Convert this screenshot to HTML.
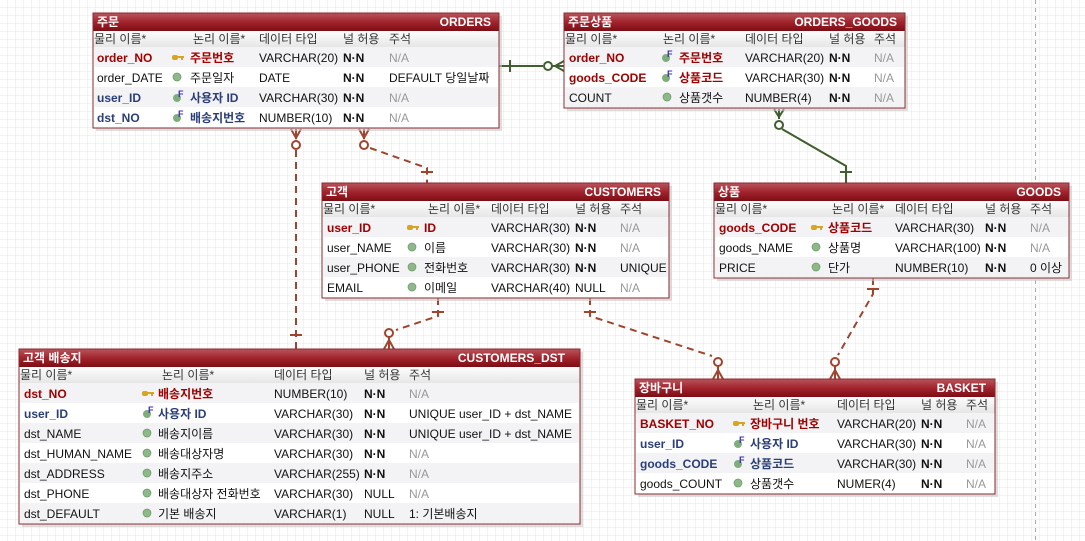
<!DOCTYPE html>
<html><head><meta charset="utf-8">
<style>
html,body{margin:0;padding:0;background:#fff;}
svg{display:block;font-family:"Liberation Sans","Noto Sans CJK KR",sans-serif;font-size:12px;}
.h{fill:#fff;font-weight:bold;font-size:12px}
.ch{fill:#333;font-size:12px}
.pk{fill:#a00000;font-weight:bold}
.fk{fill:#2a3f7a;font-weight:bold}
.n{fill:#111}
.g{fill:#999}
.b{fill:#111;font-weight:bold}
</style></head><body>
<svg width="1085" height="541" viewBox="0 0 1085 541" xmlns="http://www.w3.org/2000/svg">
<defs>
<pattern id="grid" width="8" height="8" patternUnits="userSpaceOnUse">
<path d="M8 0V8M0 8H8" stroke="#f0e0e3" stroke-width="1" fill="none"/>
</pattern>
<linearGradient id="hd" x1="0" y1="0" x2="0" y2="1">
<stop offset="0" stop-color="#b8525a"/><stop offset="0.5" stop-color="#a0222b"/><stop offset="1" stop-color="#7a0c12"/>
</linearGradient>
<linearGradient id="cg" x1="0" y1="0" x2="0" y2="1">
<stop offset="0" stop-color="#fdfdfd"/><stop offset="1" stop-color="#e6e6e6"/>
</linearGradient>
<g id="key"><rect x="0" y="-3" width="6" height="5" rx="2" fill="#d9a520"/><rect x="5" y="-2" width="7" height="2" fill="#d9a520"/><rect x="9" y="0" width="2" height="2" fill="#d9a520"/></g>
<g id="dot"><circle cx="5" cy="0" r="4" fill="#8fb88a" stroke="#6a9a66" stroke-width="0.7"/></g>
<g id="fk"><circle cx="4" cy="1" r="4" fill="#7fae7a"/><text x="5" y="0" font-size="9" font-weight="bold" fill="#3a2fb0">F</text></g>
</defs>
<rect width="1085" height="541" fill="#fff"/>
<rect width="1085" height="541" fill="url(#grid)"/>
<line x1="1035.5" y1="0" x2="1035.5" y2="541" stroke="#aaa" stroke-dasharray="4,4"/>

<!-- connectors -->
<g stroke="#a0442e" stroke-width="2" fill="none">
<path d="M296 150V349" stroke-dasharray="7,5"/>
<path d="M290 335H302"/>
<path d="M291 129L296 138L301 129M296 129V139"/>
<circle cx="296" cy="145" r="4" fill="#fff"/>
<path d="M370 148L427 168V183" stroke-dasharray="7,5"/>
<path d="M421 172H433"/>
<path d="M359 129L364 138L369 129M364 129V139"/>
<circle cx="364" cy="145" r="4" fill="#fff"/>
<path d="M438 298V316L396 330" stroke-dasharray="7,5"/>
<path d="M432 312H444"/>
<circle cx="389" cy="333" r="4" fill="#fff"/>
<path d="M389 337V349M384 349L389 340L394 349"/>
<path d="M590 298V316L712 356" stroke-dasharray="7,5"/>
<path d="M584 312H596"/>
<circle cx="718" cy="362" r="4" fill="#fff"/>
<path d="M718 366V379M713 379L718 370L723 379"/>
<path d="M873 278V294L838 355" stroke-dasharray="7,5"/>
<path d="M867 289H879"/>
<circle cx="835" cy="362" r="4" fill="#fff"/>
<path d="M835 366V379M830 379L835 370L840 379"/>
</g>
<g stroke="#3f5f2e" stroke-width="2" fill="none">
<path d="M499 66H543"/>
<path d="M510 60V72"/>
<circle cx="548" cy="66" r="4" fill="#fff"/>
<path d="M552 66H564M564 61L555 66L564 71"/>
<path d="M779 109V119M774 109L779 117L784 109"/>
<circle cx="779" cy="125" r="4" fill="#fff"/>
<path d="M782 129L846 166V183"/>
<path d="M840 172H852"/>
</g>

<!-- ORDERS -->
<g transform="translate(93,13)">
<rect x="3" y="3" width="406" height="115" fill="#c8c8c8" opacity="0.6"/>
<rect x="0" y="0" width="406" height="115" fill="#fff" stroke="#8a2a2e"/>
<rect x="0.5" y="0.5" width="405" height="18" fill="url(#hd)"/>
<text class="h" x="4" y="13">주문</text><text class="h" x="398" y="13" text-anchor="end">ORDERS</text>
<rect x="0.5" y="18" width="405" height="16" fill="url(#cg)"/>
<text class="ch" x="1" y="30">물리 이름*</text><text class="ch" x="100" y="30">논리 이름*</text><text class="ch" x="166" y="30">데이터 타입</text><text class="ch" x="250" y="30">널 허용</text><text class="ch" x="296" y="30">주석</text>
<rect x="1" y="34" width="404" height="20" fill="#f3f3f5"/><rect x="1" y="74" width="404" height="20" fill="#f3f3f5"/>
<text class="pk" x="4" y="49">order_NO</text><use href="#key" x="79" y="45"/><text class="pk" x="97" y="49">주문번호</text><text class="n" x="166" y="49">VARCHAR(20)</text><text class="b" x="250" y="49">N·N</text><text class="g" x="296" y="49">N/A</text>
<text class="n" x="4" y="69">order_DATE</text><use href="#dot" x="79" y="64"/><text class="n" x="97" y="69">주문일자</text><text class="n" x="166" y="69">DATE</text><text class="b" x="250" y="69">N·N</text><text class="n" x="296" y="69">DEFAULT 당일날짜</text>
<text class="fk" x="4" y="89">user_ID</text><use href="#fk" x="80" y="84"/><text class="fk" x="97" y="89">사용자 ID</text><text class="n" x="166" y="89">VARCHAR(30)</text><text class="b" x="250" y="89">N·N</text><text class="g" x="296" y="89">N/A</text>
<text class="fk" x="4" y="109">dst_NO</text><use href="#fk" x="80" y="104"/><text class="fk" x="97" y="109">배송지번호</text><text class="n" x="166" y="109">NUMBER(10)</text><text class="b" x="250" y="109">N·N</text><text class="g" x="296" y="109">N/A</text>
</g>

<!-- ORDERS_GOODS -->
<g transform="translate(564,13)">
<rect x="3" y="3" width="341" height="95" fill="#c8c8c8" opacity="0.6"/>
<rect x="0" y="0" width="341" height="95" fill="#fff" stroke="#8a2a2e"/>
<rect x="0.5" y="0.5" width="340" height="18" fill="url(#hd)"/>
<text class="h" x="4" y="13">주문상품</text><text class="h" x="333" y="13" text-anchor="end">ORDERS_GOODS</text>
<rect x="0.5" y="18" width="340" height="16" fill="url(#cg)"/>
<text class="ch" x="1" y="30">물리 이름*</text><text class="ch" x="99" y="30">논리 이름*</text><text class="ch" x="181" y="30">데이터 타입</text><text class="ch" x="265" y="30">널 허용</text><text class="ch" x="310" y="30">주석</text>
<rect x="1" y="34" width="339" height="20" fill="#f3f3f5"/><rect x="1" y="74" width="339" height="20" fill="#f3f3f5"/>
<text class="pk" x="5" y="49">order_NO</text><use href="#fk" x="98" y="44"/><text class="pk" x="115" y="49">주문번호</text><text class="n" x="181" y="49">VARCHAR(20)</text><text class="b" x="265" y="49">N·N</text><text class="g" x="310" y="49">N/A</text>
<text class="pk" x="5" y="69">goods_CODE</text><use href="#fk" x="98" y="64"/><text class="pk" x="115" y="69">상품코드</text><text class="n" x="181" y="69">VARCHAR(30)</text><text class="b" x="265" y="69">N·N</text><text class="g" x="310" y="69">N/A</text>
<text class="n" x="5" y="89">COUNT</text><use href="#dot" x="98" y="84"/><text class="n" x="115" y="89">상품갯수</text><text class="n" x="181" y="89">NUMBER(4)</text><text class="b" x="265" y="89">N·N</text><text class="g" x="310" y="89">N/A</text>
</g>

<!-- CUSTOMERS -->
<g transform="translate(322,183)">
<rect x="3" y="3" width="347" height="115" fill="#c8c8c8" opacity="0.6"/>
<rect x="0" y="0" width="347" height="115" fill="#fff" stroke="#8a2a2e"/>
<rect x="0.5" y="0.5" width="346" height="18" fill="url(#hd)"/>
<text class="h" x="4" y="13">고객</text><text class="h" x="339" y="13" text-anchor="end">CUSTOMERS</text>
<rect x="0.5" y="18" width="346" height="16" fill="url(#cg)"/>
<text class="ch" x="1" y="30">물리 이름*</text><text class="ch" x="106" y="30">논리 이름*</text><text class="ch" x="169" y="30">데이터 타입</text><text class="ch" x="253" y="30">널 허용</text><text class="ch" x="298" y="30">주석</text>
<rect x="1" y="34" width="345" height="20" fill="#f3f3f5"/><rect x="1" y="74" width="345" height="20" fill="#f3f3f5"/>
<text class="pk" x="5" y="49">user_ID</text><use href="#key" x="85" y="45"/><text class="pk" x="102" y="49">ID</text><text class="n" x="169" y="49">VARCHAR(30)</text><text class="b" x="253" y="49">N·N</text><text class="g" x="298" y="49">N/A</text>
<text class="n" x="5" y="69">user_NAME</text><use href="#dot" x="85" y="64"/><text class="n" x="102" y="69">이름</text><text class="n" x="169" y="69">VARCHAR(30)</text><text class="b" x="253" y="69">N·N</text><text class="g" x="298" y="69">N/A</text>
<text class="n" x="5" y="89">user_PHONE</text><use href="#dot" x="85" y="84"/><text class="n" x="102" y="89">전화번호</text><text class="n" x="169" y="89">VARCHAR(30)</text><text class="b" x="253" y="89">N·N</text><text class="n" x="298" y="89">UNIQUE</text>
<text class="n" x="5" y="109">EMAIL</text><use href="#dot" x="85" y="104"/><text class="n" x="102" y="109">이메일</text><text class="n" x="169" y="109">VARCHAR(40)</text><text class="n" x="253" y="109">NULL</text><text class="g" x="298" y="109">N/A</text>
</g>

<!-- GOODS -->
<g transform="translate(714,183)">
<rect x="3" y="3" width="355" height="95" fill="#c8c8c8" opacity="0.6"/>
<rect x="0" y="0" width="355" height="95" fill="#fff" stroke="#8a2a2e"/>
<rect x="0.5" y="0.5" width="354" height="18" fill="url(#hd)"/>
<text class="h" x="4" y="13">상품</text><text class="h" x="347" y="13" text-anchor="end">GOODS</text>
<rect x="0.5" y="18" width="354" height="16" fill="url(#cg)"/>
<text class="ch" x="1" y="30">물리 이름*</text><text class="ch" x="118" y="30">논리 이름*</text><text class="ch" x="181" y="30">데이터 타입</text><text class="ch" x="271" y="30">널 허용</text><text class="ch" x="316" y="30">주석</text>
<rect x="1" y="34" width="353" height="20" fill="#f3f3f5"/><rect x="1" y="74" width="353" height="20" fill="#f3f3f5"/>
<text class="pk" x="5" y="49">goods_CODE</text><use href="#key" x="97" y="45"/><text class="pk" x="114" y="49">상품코드</text><text class="n" x="181" y="49">VARCHAR(30)</text><text class="b" x="271" y="49">N·N</text><text class="g" x="316" y="49">N/A</text>
<text class="n" x="5" y="69">goods_NAME</text><use href="#dot" x="97" y="64"/><text class="n" x="114" y="69">상품명</text><text class="n" x="181" y="69">VARCHAR(100)</text><text class="b" x="271" y="69">N·N</text><text class="g" x="316" y="69">N/A</text>
<text class="n" x="5" y="89">PRICE</text><use href="#dot" x="97" y="84"/><text class="n" x="114" y="89">단가</text><text class="n" x="181" y="89">NUMBER(10)</text><text class="b" x="271" y="89">N·N</text><text class="n" x="316" y="89">0 이상</text>
</g>

<!-- CUSTOMERS_DST -->
<g transform="translate(19,349)">
<rect x="3" y="3" width="561" height="175" fill="#c8c8c8" opacity="0.6"/>
<rect x="0" y="0" width="561" height="175" fill="#fff" stroke="#8a2a2e"/>
<rect x="0.5" y="0.5" width="560" height="18" fill="url(#hd)"/>
<text class="h" x="4" y="13">고객 배송지</text><text class="h" x="546" y="13" text-anchor="end">CUSTOMERS_DST</text>
<rect x="0.5" y="18" width="560" height="16" fill="url(#cg)"/>
<text class="ch" x="1" y="30">물리 이름*</text><text class="ch" x="143" y="30">논리 이름*</text><text class="ch" x="255" y="30">데이터 타입</text><text class="ch" x="345" y="30">널 허용</text><text class="ch" x="390" y="30">주석</text>
<rect x="1" y="34" width="559" height="20" fill="#f3f3f5"/><rect x="1" y="74" width="559" height="20" fill="#f3f3f5"/><rect x="1" y="114" width="559" height="20" fill="#f3f3f5"/><rect x="1" y="154" width="559" height="20" fill="#f3f3f5"/>
<text class="pk" x="5" y="49">dst_NO</text><use href="#key" x="123" y="45"/><text class="pk" x="139" y="49">배송지번호</text><text class="n" x="255" y="49">NUMBER(10)</text><text class="b" x="345" y="49">N·N</text><text class="g" x="390" y="49">N/A</text>
<text class="fk" x="5" y="69">user_ID</text><use href="#fk" x="124" y="64"/><text class="fk" x="139" y="69">사용자 ID</text><text class="n" x="255" y="69">VARCHAR(30)</text><text class="b" x="345" y="69">N·N</text><text class="n" x="390" y="69">UNIQUE user_ID + dst_NAME</text>
<text class="n" x="5" y="89">dst_NAME</text><use href="#dot" x="123" y="84"/><text class="n" x="139" y="89">배송지이름</text><text class="n" x="255" y="89">VARCHAR(30)</text><text class="b" x="345" y="89">N·N</text><text class="n" x="390" y="89">UNIQUE user_ID + dst_NAME</text>
<text class="n" x="5" y="109">dst_HUMAN_NAME</text><use href="#dot" x="123" y="104"/><text class="n" x="139" y="109">배송대상자명</text><text class="n" x="255" y="109">VARCHAR(30)</text><text class="b" x="345" y="109">N·N</text><text class="g" x="390" y="109">N/A</text>
<text class="n" x="5" y="129">dst_ADDRESS</text><use href="#dot" x="123" y="124"/><text class="n" x="139" y="129">배송지주소</text><text class="n" x="255" y="129">VARCHAR(255)</text><text class="b" x="345" y="129">N·N</text><text class="g" x="390" y="129">N/A</text>
<text class="n" x="5" y="149">dst_PHONE</text><use href="#dot" x="123" y="144"/><text class="n" x="139" y="149">배송대상자 전화번호</text><text class="n" x="255" y="149">VARCHAR(30)</text><text class="n" x="345" y="149">NULL</text><text class="g" x="390" y="149">N/A</text>
<text class="n" x="5" y="169">dst_DEFAULT</text><use href="#dot" x="123" y="164"/><text class="n" x="139" y="169">기본 배송지</text><text class="n" x="255" y="169">VARCHAR(1)</text><text class="n" x="345" y="169">NULL</text><text class="n" x="390" y="169">1: 기본배송지</text>
</g>

<!-- BASKET -->
<g transform="translate(635,379)">
<rect x="3" y="3" width="360" height="115" fill="#c8c8c8" opacity="0.6"/>
<rect x="0" y="0" width="360" height="115" fill="#fff" stroke="#8a2a2e"/>
<rect x="0.5" y="0.5" width="359" height="18" fill="url(#hd)"/>
<text class="h" x="4" y="13">장바구니</text><text class="h" x="351" y="13" text-anchor="end">BASKET</text>
<rect x="0.5" y="18" width="359" height="16" fill="url(#cg)"/>
<text class="ch" x="1" y="30">물리 이름*</text><text class="ch" x="118" y="30">논리 이름*</text><text class="ch" x="202" y="30">데이터 타입</text><text class="ch" x="286" y="30">널 허용</text><text class="ch" x="331" y="30">주석</text>
<rect x="1" y="34" width="358" height="20" fill="#f3f3f5"/><rect x="1" y="74" width="358" height="20" fill="#f3f3f5"/>
<text class="pk" x="5" y="49">BASKET_NO</text><use href="#key" x="98" y="45"/><text class="pk" x="115" y="49">장바구니 번호</text><text class="n" x="202" y="49">VARCHAR(20)</text><text class="b" x="286" y="49">N·N</text><text class="g" x="331" y="49">N/A</text>
<text class="fk" x="5" y="69">user_ID</text><use href="#fk" x="99" y="64"/><text class="fk" x="115" y="69">사용자 ID</text><text class="n" x="202" y="69">VARCHAR(30)</text><text class="b" x="286" y="69">N·N</text><text class="g" x="331" y="69">N/A</text>
<text class="fk" x="5" y="89">goods_CODE</text><use href="#fk" x="99" y="84"/><text class="fk" x="115" y="89">상품코드</text><text class="n" x="202" y="89">VARCHAR(30)</text><text class="b" x="286" y="89">N·N</text><text class="g" x="331" y="89">N/A</text>
<text class="n" x="5" y="109">goods_COUNT</text><use href="#dot" x="98" y="104"/><text class="n" x="115" y="109">상품갯수</text><text class="n" x="202" y="109">NUMER(4)</text><text class="b" x="286" y="109">N·N</text><text class="g" x="331" y="109">N/A</text>
</g>
</svg>
</body></html>
